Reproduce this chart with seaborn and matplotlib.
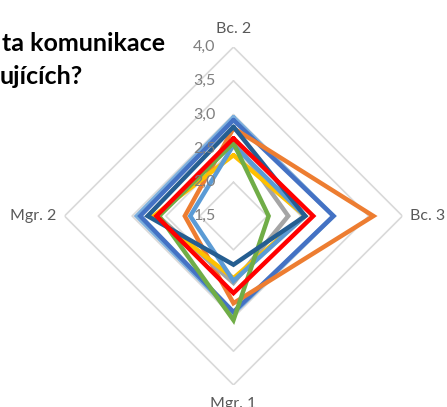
import numpy as np
import matplotlib
matplotlib.use("Agg")
import matplotlib.pyplot as plt
import matplotlib.transforms as mtransforms
import seaborn as sns

# Axis categories (clockwise from top)
categories = ["Bc. 2", "Bc. 3", "Mgr. 1", "Mgr. 2"]

# Series values, in the same order as categories
light_outer = [2.96, 2.98, 2.94, 2.93]
blue = [2.92, 2.98, 2.92, 2.88]
orange = [2.80, 3.57, 2.79, 2.22]
gray = [2.64, 2.31, 2.49, 2.62]
yellow = [2.40, 2.56, 2.42, 2.68]
light_blue = [2.55, 2.56, 2.46, 2.14]
green = [2.58, 2.02, 3.04, 2.60]
dark_blue = [2.82, 2.56, 2.22, 2.77]
red = [2.65, 2.68, 2.64, 2.64]

series = [
    (light_outer, "#7CAFDD"),
    (blue, "#4472C4"),
    (orange, "#ED7D31"),
    (gray, "#A5A5A5"),
    (yellow, "#FFC000"),
    (light_blue, "#5B9BD5"),
    (green, "#70AD47"),
    (dark_blue, "#255E91"),
    (red, "#FF0000"),
]

levels = [2.0, 2.5, 3.0, 3.5, 4.0]
tick_labels = ["1,5", "2,0", "2,5", "3,0", "3,5", "4,0"]
tick_values = [1.5, 2.0, 2.5, 3.0, 3.5, 4.0]

sns.set_theme(style="white")
plt.rcParams["font.family"] = ["Lato", "DejaVu Sans"]

fig = plt.figure(figsize=(4.47, 4.07), dpi=100)
ax = fig.add_axes([0.1443, 0.054, 0.756, 0.8305], projection="polar")
ax.set_theta_offset(np.pi / 2)
ax.set_theta_direction(-1)

angles = np.linspace(0, 2 * np.pi, len(categories), endpoint=False)
closed = np.append(angles, angles[0])

# diamond gridlines
for lv in levels:
    ax.plot(closed, [lv] * (len(categories) + 1), color="#D9D9D9", lw=1.2, zorder=1)

for vals, col in series:
    v = list(vals) + [vals[0]]
    ax.plot(closed, v, color=col, lw=3.2, solid_joinstyle="miter", zorder=3)

ax.set_ylim(1.5, 4.0)
ax.grid(False)
ax.spines["polar"].set_visible(False)
ax.set_xticks([])
ax.set_yticks([])
ax.set_facecolor("none")

# radial tick labels left of the top axis
off = mtransforms.offset_copy(ax.transData, fig=fig, x=-18, y=0, units="dots")
for tv, tl in zip(tick_values, tick_labels):
    ax.text(0, tv, tl, transform=off, ha="right", va="center",
            fontsize=11.5, color="#7F7F7F", zorder=4)

# category labels
label_offsets = [(0, 18), (8, 0), (0, -19), (-8, 0)]
for ang, name, (dx, dy) in zip(angles, categories, label_offsets):
    t = mtransforms.offset_copy(ax.transData, fig=fig, x=dx, y=dy, units="dots")
    ha = "center" if dx == 0 else ("left" if dx > 0 else "right")
    ax.text(ang, 4.0, name, transform=t, ha=ha, va="center",
            fontsize=11.5, color="#595959")

# cropped title
fig.text(0.004, 0.892, "ta komunikace", fontsize=18, fontweight="bold",
         color="black", ha="left", va="center")
fig.text(0.0, 0.811, "ujících?", fontsize=18, fontweight="bold",
         color="black", ha="left", va="center")

fig.savefig("out.png", dpi=100)
